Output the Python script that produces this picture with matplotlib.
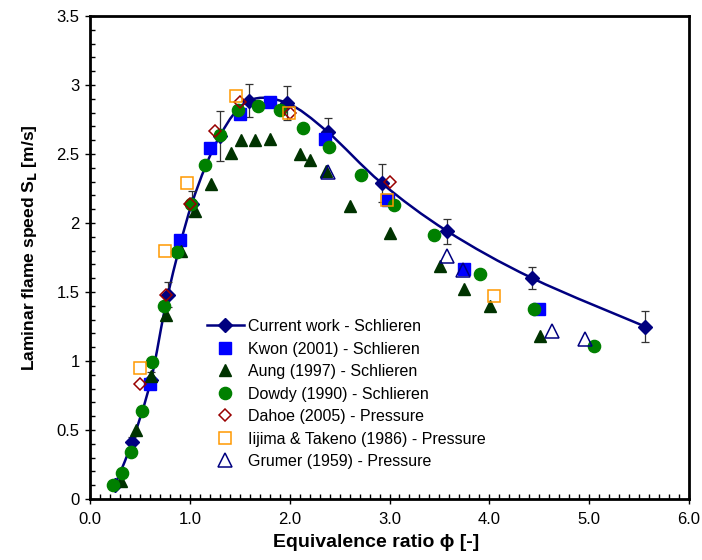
import numpy as np
import matplotlib
matplotlib.use('Agg')
import matplotlib.pyplot as plt
from matplotlib.path import Path
from matplotlib.patches import PathPatch
from matplotlib.lines import Line2D
from matplotlib.ticker import MultipleLocator, FormatStrFormatter

plt.rcParams['font.family'] = ['Liberation Sans', 'DejaVu Sans']

# current work - schlieren
cw_phi = [0.25, 0.42, 0.61, 0.78, 1.02, 1.30, 1.59, 1.97, 2.38, 2.92, 3.58, 4.43, 5.56]
cw_sl = [0.10, 0.41, 0.86, 1.48, 2.14, 2.63, 2.885, 2.87, 2.66, 2.29, 1.94, 1.60, 1.25]
cw_err = [0.02, 0.04, 0.06, 0.09, 0.09, 0.18, 0.12, 0.12, 0.10, 0.14, 0.09, 0.08, 0.11]

kwon_phi = [0.60, 0.90, 1.20, 1.50, 1.80, 2.35, 2.98, 3.75, 4.50]
kwon_sl = [0.83, 1.88, 2.54, 2.79, 2.88, 2.61, 2.17, 1.67, 1.38]

aung_phi = [0.31, 0.46, 0.61, 0.76, 0.91, 1.05, 1.21, 1.41, 1.51, 1.65, 1.80,
            2.10, 2.20, 2.36, 2.60, 3.00, 3.51, 3.75, 4.01, 4.51]
aung_sl = [0.13, 0.50, 0.89, 1.33, 1.80, 2.09, 2.28, 2.51, 2.60, 2.60, 2.61,
           2.50, 2.46, 2.38, 2.12, 1.93, 1.69, 1.52, 1.40, 1.18]

dowdy_phi = [0.23, 0.32, 0.41, 0.52, 0.62, 0.74, 0.87, 1.01, 1.15, 1.30, 1.48,
             1.68, 1.90, 2.13, 2.39, 2.71, 3.05, 3.45, 3.91, 4.45, 5.05]
dowdy_sl = [0.10, 0.19, 0.34, 0.64, 0.99, 1.40, 1.79, 2.14, 2.42, 2.64, 2.82,
            2.85, 2.82, 2.69, 2.55, 2.35, 2.13, 1.91, 1.63, 1.38, 1.11]

dahoe_phi = [0.50, 0.76, 1.00, 1.25, 1.50, 2.00, 3.00]
dahoe_sl = [0.83, 1.48, 2.14, 2.67, 2.88, 2.80, 2.30]

iijima_phi = [0.50, 0.75, 0.97, 1.46, 1.99, 2.97, 4.05]
iijima_sl = [0.95, 1.80, 2.29, 2.92, 2.80, 2.17, 1.47]

grumer_phi = [2.38, 3.58, 3.74, 4.63, 4.96]
grumer_sl = [2.37, 1.76, 1.66, 1.22, 1.16]

navy = '#000080'

fig = plt.figure(figsize=(7.02, 5.60), dpi=100)
ax = fig.add_axes([90 / 702, 61 / 560, 599 / 702, 483 / 560])


# smoothed line through the current work points (excel style bezier)
def smooth_path(xs, ys):
    p = np.column_stack([xs, ys])
    verts = [p[0]]
    codes = [Path.MOVETO]
    n = len(p)
    for i in range(n - 1):
        p0 = p[i - 1] if i > 0 else p[i]
        p3 = p[i + 2] if i + 2 < n else p[i + 1]
        c1 = p[i] + (p[i + 1] - p0) / 6
        c2 = p[i + 1] - (p3 - p[i]) / 6
        verts += [c1, c2, p[i + 1]]
        codes += [Path.CURVE4] * 3
    return Path(verts, codes)


ax.add_patch(PathPatch(smooth_path(cw_phi, cw_sl), fill=False, edgecolor=navy, lw=1.8, zorder=2))
ax.errorbar(cw_phi, cw_sl, yerr=cw_err, fmt='none', ecolor='#333333', elinewidth=0.9,
            capsize=3, capthick=0.9, zorder=2)
ax.plot(cw_phi, cw_sl, ls='none', marker='D', ms=7, color=navy, zorder=3)

ax.plot(kwon_phi, kwon_sl, ls='none', marker='s', ms=8, color='#0000ff', zorder=4)
ax.plot(aung_phi, aung_sl, ls='none', marker='^', ms=9, color='#003300', zorder=5)
ax.plot(dowdy_phi, dowdy_sl, ls='none', marker='o', ms=8.8, color='#008000', zorder=6)
ax.plot(dahoe_phi, dahoe_sl, ls='none', marker='D', ms=6.5, mfc='none', mec='#990000',
        mew=1.1, zorder=7)
ax.plot(iijima_phi, iijima_sl, ls='none', marker='s', ms=9, mfc='none', mec='#ff9900',
        mew=1.1, zorder=8)
ax.plot(grumer_phi, grumer_sl, ls='none', marker='^', ms=10, mfc='none', mec=navy,
        mew=1.1, zorder=9)

ax.set_xlim(0, 6)
ax.set_ylim(0, 3.5)
ax.xaxis.set_major_locator(MultipleLocator(1))
ax.xaxis.set_minor_locator(MultipleLocator(0.1))
ax.yaxis.set_major_locator(MultipleLocator(0.5))
ax.yaxis.set_minor_locator(MultipleLocator(0.1))
ax.xaxis.set_major_formatter(FormatStrFormatter('%.1f'))
ax.set_yticks([0, 0.5, 1, 1.5, 2, 2.5, 3, 3.5])
ax.set_yticklabels(['0', '0.5', '1', '1.5', '2', '2.5', '3', '3.5'])
ax.tick_params(which='major', direction='inout', length=7, width=1, labelsize=12, pad=4)
ax.tick_params(which='minor', direction='in', length=3.5, width=1)
ax.tick_params(axis='x', which='major', pad=6)
for s in ax.spines.values():
    s.set_linewidth(2)

ax.set_xlabel('Equivalence ratio \u03d5 [-]', fontsize=14, fontweight='bold')
ax.set_ylabel('Laminar flame speed S$_\\mathbf{L}$ [m/s]', fontsize=12.6, fontweight='bold')
ax.xaxis.set_label_coords(0.478, -0.072)
ax.yaxis.set_label_coords(-0.085, 0.52)

handles = [
    Line2D([], [], color=navy, lw=1.8, marker='D', ms=7),
    Line2D([], [], ls='none', marker='s', ms=8, color='#0000ff'),
    Line2D([], [], ls='none', marker='^', ms=9, color='#003300'),
    Line2D([], [], ls='none', marker='o', ms=8.8, color='#008000'),
    Line2D([], [], ls='none', marker='D', ms=6.5, mfc='none', mec='#990000', mew=1.1),
    Line2D([], [], ls='none', marker='s', ms=9, mfc='none', mec='#ff9900', mew=1.1),
    Line2D([], [], ls='none', marker='^', ms=10, mfc='none', mec=navy, mew=1.1),
]
labels = ['Current work - Schlieren', 'Kwon (2001) - Schlieren', 'Aung (1997) - Schlieren',
          'Dowdy (1990) - Schlieren', 'Dahoe (2005) - Pressure',
          'Iijima & Takeno (1986) - Pressure', 'Grumer (1959) - Pressure']
ax.legend(handles, labels, loc='upper left', bbox_to_anchor=(207 / 702, 1 - 319 / 560),
          bbox_transform=fig.transFigure, frameon=False, fontsize=11.5, handlelength=2.3,
          handletextpad=0.25, labelspacing=0.47, borderpad=0, borderaxespad=0)

fig.savefig('out.png', dpi=100)
